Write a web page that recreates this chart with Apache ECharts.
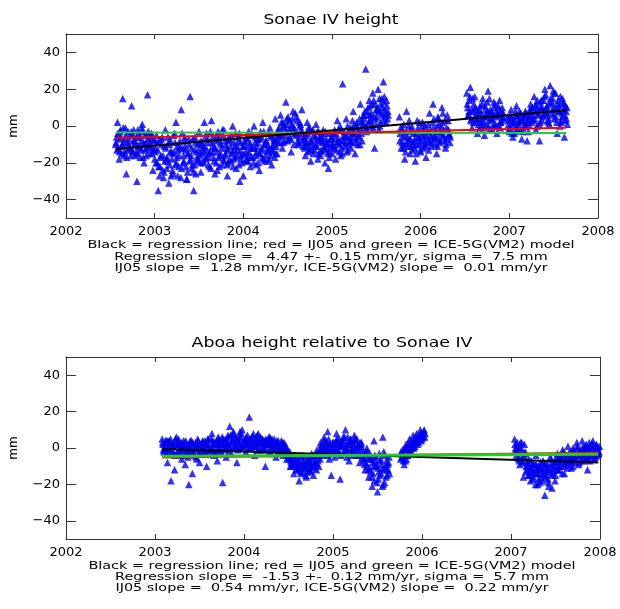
<!DOCTYPE html>
<html><head><meta charset="utf-8">
<script src="https://cdn.jsdelivr.net/npm/echarts@6/dist/echarts.min.js"></script>
<style>html,body{margin:0;padding:0;background:#fff}#c{width:620px;height:609px}</style>
</head><body><div id="c"></div>
<script>
// ---------- DATA ----------
const STEP = 0.02;                       // sampling step of each sample set (years)
const SET_OFFSETS = [0, 0.01, 0.005, 0.015]; // time offsets of the four sample sets
const xTicks = [2002, 2003, 2004, 2005, 2006, 2007, 2008];
const yTicks = [-40, -20, 0, 20, 40];

// ---- Sonae IV height (mm) ----
const sonaeStarts = [2002.56, 2003.00, 2004.00, 2005.00, 2005.76, 2006.52, 2006.98];
// set 1 (full spread incl. outliers)
const sonae2002 = [-10, 2, -18, -6, 15, -14, -26, -3, -12, 11, -8, -16, -30, -4, -13, 1, -20, -9, 17, -15, -5, -24];
const sonae2003 = [-18, -5, -35, -22, -10, -28, -2, -17, -31, -8, -24, -14, 2, -27, -11, 9, -20, -6, -29, -15, 16, -23, -35, -9, -19,
  -3, -25, -12, 2, -18, -7, -22, 3, -14, -26, -5, -17, -9, -21, -2, -15, -27, -8, -19, 0, -13, -23, -6, -30, -16];
const sonae2004 = [-27, -10, -18, -3, -22, -12, 0, -16, -7, -24, -13, 2, -19, -8, -14, -1, -21, -10, 4, -15, -5, 6, -12, 1, 13,
  -8, 3, -14, 8, -4, 5, -10, 0, 9, -6, -16, 2, -11, -19, -3, -13, 1, -18, -7, -14, -2, -20, -9, -23, -12];
const sonae2005a = [-15, -4, -18, 3, -10, -16, 23, -6, 4, -13, -1, -9, 8, -15, 2, -5, 12, -8, 6, 31, -2, 14, 3, 18, -12, 9, 20, 0, 15, 24, 5, 11];
const sonae2005b = [5, -12, -2, -18, 8, -8, -15, 0, -10, -19, 3, -6, -14, 2, -9, -17, -3, 7, -11, 12, -5, -15, 4, -8, 10, -2, -12, 6, -4];
const sonae2006 = [18, 6, 21, -1, 12, 2, -4, 9, 0, 15, -5, 5, 19, -2, 8, 1, 12, -4, 6, -1, 10];
const sonae2007 = [5, -3, 9, -6, 2, 11, -2, 6, -7, 3, 8, -8, 1, 12, 4, 16, -2, 9, -8, 14, 5, 20, 10, 2, 22, 13, 6, 18, -4, 11, 3, 15, -6, 8];
// set 2 (core band)
const sonae2002c = [-6, -12, -3, -15, -9, -1, -13, -7, -16, -4, -10, -14, -2, -11, -8, -17, -5, -12, -3, -9, -15, -7];
const sonae2003c = [-12, -20, -8, -16, -24, -11, -18, -6, -21, -14, -26, -9, -17, -22, -12, -4, -19, -13, -25, -10, -16, -7, -21, -14, -18,
  -9, -15, -20, -6, -13, -17, -3, -11, -19, -8, -14, -22, -10, -5, -16, -12, -20, -7, -14, -18, -4, -11, -21, -9, -15];
const sonae2004c = [-15, -6, -19, -11, -4, -17, -9, -14, -20, -7, -12, -3, -16, -10, -18, -5, -13, -8, -11, -2,
  -6, 2, -9, -1, 4, -7, -3, 1, -10, -4, 3, -6, -2, -8, -12, -5, -14, -1, -9, -15, -6, -11, -3, -16, -8, -4, -13, -10, -17, -6];
const sonae2005ac = [-10, -2, -13, -7, 0, -12, -5, -9, -14, -3, -8, 3, -6, -1, -10, 4, -4, 1, 8, -3, 6, 11, 0, 14, 4, 9, -2, 12, 6, 16, 2, 8];
const sonae2005bc = [-4, -9, 1, -14, -6, 3, -11, -3, -8, -15, -1, -10, -5, -12, 0, -7, -13, -2, -9, 4, -6, -11, 1, -4, 7, -8, -1, 3, -9];
const sonae2006c = [10, 14, 4, 8, 16, 6, 1, 11, 4, -1, 9, 13, 3, 7, -2, 10, 5, 0, 14, 3, 7];
const sonae2007c = [1, 6, -4, 4, 8, -1, 3, 7, -3, 5, 0, 4, 9, 2, 6, 11, 0, 7, 13, 3, 9, 17, 6, 1, 12, 15, 4, 9, 14, 0, 7, 12, 3, 10];
// set 3
const sonae2002d = [-9, -4, -14, -11, -1, -7, -17, -10, -5, -13, -2, -9, -15, -6, -12, -3, -10, -16, -7, -11, -4, -13];
const sonae2003d = [-14, -9, -22, -17, -6, -25, -12, -19, -10, -27, -15, -4, -20, -13, -8, -23, -16, -11, -29, -7, -18, -21, -13, -26, -10,
  -16, -8, -19, -11, -4, -21, -14, -9, -17, -12, -24, -7, -15, -2, -19, -10, -13, -18, -5, -22, -11, -16, -8, -14, -20];
const sonae2004d = [-11, -19, -7, -14, -17, -5, -12, -21, -9, -15, -6, -18, -10, -13, -4, -16, -11, -7, -15, -9,
  -1, -5, 2, -8, -3, 5, -6, 0, -2, 7, -4, -9, 1, -3, -7, -10, -4, -13, -8, -2, -11, -7, -15, -5, -9, -12, -3, -10, -14, -7];
const sonae2005ad = [-7, -12, -4, -9, -14, -2, -8, -11, -5, -10, -6, -1, -4, -9, 0, -6, -2, 2, 4, 0, 10, 3, 7, -1, 12, 5, 8, 2, 10, 13, 7, 4];
const sonae2005bd = [-8, -2, -12, -5, -9, 0, -7, -13, -4, -6, -10, 2, -8, -3, -11, -5, 1, -9, -6, -1, -10, 0, -7, -3, 2, -6, -10, -2, -5];
const sonae2006d = [12, 8, 3, 15, 5, 9, 4, -1, 7, 2, 11, 6, 0, 9, 4, 13, 1, 6, 9, 2, 5];
const sonae2007d = [3, -1, 5, 1, -3, 6, 2, -2, 4, 0, 7, 2, 5, 8, 10, 4, 12, 6, 2, 10, 14, 7, 11, 4, 15, 9, 18, 5, 12, 8, 2, 13, 6, 4];
// set 4
const sonae2002e = [-13, -7, -2, -10, -16, -5, -9, -12, -3, -14, -8, -6, -11, -17, -1, -9, -13, -4, -10, -6, -12, -8];
const sonae2003e = [-20, -13, -27, -7, -16, -19, -23, -9, -14, -18, -5, -21, -11, -16, -28, -12, -8, -22, -15, -19, -12, -25, -6, -17, -13,
  -20, -10, -14, -17, -9, -15, -23, -6, -12, -20, -3, -16, -12, -18, -8, -21, -6, -11, -15, -9, -17, -13, -4, -18, -11];
const sonae2004e = [-8, -14, -16, -9, -12, -20, -6, -11, -15, -3, -17, -10, -8, -19, -12, -6, -14, -17, -7, -4,
  -9, -3, 0, -5, 1, -2, -7, 4, -1, -5, -8, 2, -4, -11, -6, -9, -1, -8, -12, -5, -10, -3, -8, -13, -6, -11, -7, -15, -4, -9];
const sonae2005ae = [-11, -6, -9, -2, -8, -15, -3, -6, 0, -8, -12, -4, 1, -7, -3, -10, 3, 6, -1, 8, 2, 6, 12, 5, 1, 10, 15, 7, 3, 9, 14, 6];
const sonae2005be = [-1, -6, -10, -3, -11, -7, -2, -9, -12, -4, -7, -13, 0, -6, -10, -3, -8, -5, 2, -7, -3, 5, -9, -1, -5, 3, -7, -2, -6];
const sonae2006e = [6, 16, 9, 2, 10, 4, 7, 2, 12, 5, 1, 8, 15, 4, 6, 0, 8, 11, 2, 8, 4];
const sonae2007e = [-2, 4, 2, -4, 5, 1, 8, 3, -1, 6, 2, -3, 6, 10, 3, 8, 14, 1, 10, 6, 16, 8, 3, 13, 7, 19, 10, 2, 8, 16, 5, 9, 11, 1];
// Sonae IV lines: [year, mm] end points
const sonaeRegression = [[2002.56, -12.5], [2007.64, 8.5]];
const sonaeIJ05 = [[2002.56, -6.5], [2007.64, -1.0]];
const sonaeICE5G = [[2002.56, -3.6], [2007.64, -3.8]];

// ---- Aboa relative to Sonae IV (mm) ----
const aboaStarts = [2003.08, 2004.00, 2005.00, 2005.76, 2007.04];
const aboa2003 = [5, -2, 3, -8, 4, -18, 1, -12, 6, -3, 2, -6, 4, -9, -2, -20, 3, -14, 0, -5, 5, -8, 1, -3, 4, -10, 2, -1, 8, -4,
  3, -7, 5, -2, -19, 4, -5, 7, 12, -3, 9, 1, -8, 6, 0, 10];
const aboa2004 = [4, -2, 7, 17, 1, 6, -4, 3, 8, -1, 5, 0, -10, 4, 6, -3, 2, 5, -5, 3, -1, 4, -4, 1, -6,
  -2, -10, -4, -14, -7, -11, -18, -5, -13, -9, -16, -6, -12, -3, -15, -8, -1, -10, 3, -4, 6, -2, 9, -6, -15];
const aboa2005a = [2, -5, 8, -1, -17, 4, -3, 10, 0, -7, 5, -2, 7, -4, 1, -8, 3, -6, -12, 0, -16, -5, -21, 4, -10, -24, -3, -14, 6, -19, -7, -12];
const aboa2005b = [-6, -1, -9, 2, -4, 5, -2, 7, 1, 8, 3, 10, 5, 9];
const aboa2007 = [5, -4, 1, -9, 3, -16, -2, -12, -6, -18, -9, -14, -4, -20, -11, -16, -7, -26, -13, -19, -5, -22, -10, -15,
  -3, -12, -6, -1, -14, -8, 1, -5, -11, 0, -6, 3, -9, -2, 4, -7, 1, -12, 3, -4, 4, -6, 2, -3];
const aboa2003c = [2, -1, 4, 0, 3, -3, 1, 5, -2, 2, -4, 0, 3, -1, -5, 1, 4, -2, 0, -6, 2, -3, 3, 1, -1, 5, -2, 0, 4, -3,
  2, 6, -1, 3, 0, 5, 2, -2, 7, 4, 1, 6, -1, 3, 8, 2];
const aboa2004c = [2, 5, 3, 0, 6, 4, 1, 7, 3, 2, 5, -1, 4, 2, 6, 0, 3, 1, 4, -2, 2, 0, 3, -1, -3,
  -6, -8, -5, -10, -7, -12, -9, -4, -11, -8, -13, -6, -9, -5, -11, -3, -7, -1, 2, -3, 4, 0, 5, -1, 2];
const aboa2005ac = [0, 3, -2, 5, 1, -3, 6, 2, -1, 4, -4, 3, 0, 5, -2, 1, -5, -3, -8, -2, -11, -6, -14, -4, -9, -17, -7, -12, -2, -10, -15, -5];
const aboa2005bc = [-3, -7, 0, -4, 3, -1, 4, 0, 6, 2, 7, 4, 8, 6];
const aboa2007c = [0, 3, -5, -1, -7, 2, -10, -8, -13, -11, -16, -9, -12, -17, -8, -14, -10, -15, -9, -12, -6, -13, -8, -5,
  -10, -4, -7, -2, -9, -5, -3, -8, -1, -4, -6, 0, -3, -7, 1, -2, -5, 0, -4, 2, -1, -5, 0, -2];
const aboa2003d = [3, 0, -3, 4, 1, -1, 3, -4, 2, 5, 0, -2, 1, 4, -3, 2, -1, 3, -4, 1, 4, -2, 0, 3, -3, 2, 5, -1, 1, 3,
  -2, 4, 0, 2, 5, -1, 3, 6, 1, 4, 8, 2, 5, 0, 6, 3];
const aboa2004d = [1, 6, 3, 5, 0, 8, 2, 4, -1, 6, 3, 1, 5, 2, -2, 4, 1, 3, 0, 4, 1, -2, 2, 0, -3,
  -5, -7, -9, -4, -12, -6, -10, -14, -8, -5, -11, -9, -13, -7, -10, -4, -9, -3, 0, 1, -2, 3, -4, 2, -3];
const aboa2005ad = [3, -1, 5, 2, -4, 1, 4, -2, 6, 3, -1, 2, 5, -3, 0, 3, -4, -7, -2, -10, -6, -13, -8, -18, -5, -11, -15, -9, -20, -4, -12, -8];
const aboa2005bd = [-2, -5, -1, -6, 1, -2, 3, 2, 5, 4, 6, 8, 7, 10];
const aboa2007d = [2, -2, -6, 3, -8, -4, -13, -10, -15, -7, -17, -12, -9, -14, -19, -11, -8, -16, -12, -21, -9, -15, -11, -7,
  -12, -8, -4, -10, -3, -6, -9, -2, -7, -3, -5, 1, -8, -4, -1, -5, 2, -3, -7, -1, 2, -4, 1, -3];
const aboa2003e = [-1, 4, 2, -2, 5, 1, -3, 2, 4, -1, 3, 1, -4, 2, 0, 4, -2, 1, 3, -1, -3, 2, 4, -2, 3, 0, -1, 5, 2, -2,
  4, 1, -1, 6, 2, 0, 4, 1, 3, 7, 0, 5, 3, 9, 1, 4];
const aboa2004e = [5, 2, 0, 4, 3, 1, 6, -1, 5, 3, 0, 4, 2, -1, 3, 5, -1, 2, 3, 1, -2, 3, -1, 1, -4,
  -2, -10, -6, -9, -11, -8, -13, -7, -10, -15, -7, -12, -10, -4, -8, -12, -5, -6, -2, 4, 1, -1, 2, 0, 3];
const aboa2005ae = [-2, 4, 1, -3, 3, 6, 0, -5, 2, 5, 0, -2, 4, 1, -4, 2, -1, -9, -5, -12, -3, -16, -10, -7, -19, -13, -6, -21, -11, -16, -9, -14];
const aboa2005be = [-5, -3, -7, 0, -2, 2, 0, 4, 3, 6, 5, 8, 6, 8];
const aboa2007e = [-1, 1, -7, 0, -5, -3, -8, -15, -11, -13, -9, -20, -14, -10, -12, -18, -13, -9, -17, -11, -14, -8, -18, -12,
  -6, -10, -14, -5, -8, -11, -4, -7, -10, -2, -8, -4, -1, -6, -3, 0, -6, -2, 1, -5, -2, 0, -4, 1];
const aboaRegression = [[2003.08, -0.5], [2007.98, -8.0]];
const aboaIJ05 = [[2003.08, -5.2], [2007.98, -2.55]];
const aboaICE5G = [[2003.08, -4.5], [2007.98, -3.4]];

const titles = ['Sonae IV height', 'Aboa height relative to Sonae IV'];
const captionTop = [
  'Black = regression line; red = IJ05 and green = ICE-5G(VM2) model',
  'Regression slope =   4.47 +-  0.15 mm/yr, sigma =  7.5 mm',
  'IJ05 slope =  1.28 mm/yr, ICE-5G(VM2) slope =  0.01 mm/yr'];
const captionBottom = [
  'Black = regression line; red = IJ05 and green = ICE-5G(VM2) model',
  'Regression slope =  -1.53 +-  0.12 mm/yr, sigma =  5.7 mm',
  'IJ05 slope =  0.54 mm/yr, ICE-5G(VM2) slope =  0.22 mm/yr'];
const yName = 'mm';

// ---------- BUILD ----------
function expand(starts, sets) {
  const out = [];
  sets.forEach((segs, s) => segs.forEach((vals, k) => vals.forEach((v, i) =>
    out.push([+(starts[k] + SET_OFFSETS[s] + i * STEP).toFixed(4), v]))));
  return out;
}
const sonaePts = expand(sonaeStarts, [
  [sonae2002, sonae2003, sonae2004, sonae2005a, sonae2005b, sonae2006, sonae2007],
  [sonae2002c, sonae2003c, sonae2004c, sonae2005ac, sonae2005bc, sonae2006c, sonae2007c],
  [sonae2002d, sonae2003d, sonae2004d, sonae2005ad, sonae2005bd, sonae2006d, sonae2007d],
  [sonae2002e, sonae2003e, sonae2004e, sonae2005ae, sonae2005be, sonae2006e, sonae2007e]]);
const aboaPts = expand(aboaStarts, [
  [aboa2003, aboa2004, aboa2005a, aboa2005b, aboa2007],
  [aboa2003c, aboa2004c, aboa2005ac, aboa2005bc, aboa2007c],
  [aboa2003d, aboa2004d, aboa2005ad, aboa2005bd, aboa2007d],
  [aboa2003e, aboa2004e, aboa2005ae, aboa2005be, aboa2007e]]);

const FONT = '"DejaVu Sans", sans-serif';
const AX = '#333';
const fmtY = v => v < 0 ? '\u2212' + (-v) : String(v);

function xAxes(g) {
  return [
    {type: 'value', gridIndex: g, position: 'bottom', min: xTicks[0], max: xTicks[xTicks.length - 1], interval: 1,
      axisLine: {show: true, onZero: false, lineStyle: {color: AX, width: 1}},
      axisTick: {show: true, inside: true, length: 5, lineStyle: {color: AX}},
      axisLabel: {show: true, margin: 7, color: '#000', fontSize: 13, fontFamily: FONT, formatter: v => String(v)},
      splitLine: {show: false}},
    {type: 'value', gridIndex: g, position: 'top', min: xTicks[0], max: xTicks[xTicks.length - 1], interval: 1,
      axisLine: {show: true, onZero: false, lineStyle: {color: AX, width: 1}},
      axisTick: {show: true, inside: true, length: 5, lineStyle: {color: AX}},
      axisLabel: {show: false}, splitLine: {show: false}}
  ];
}
function yAxes(g) {
  return [
    {type: 'value', gridIndex: g, position: 'left', min: -50, max: 50,
      name: yName, nameLocation: 'middle', nameGap: 46, nameRotate: 90,
      nameTextStyle: {color: '#000', fontSize: 12, fontFamily: FONT},
      axisLine: {show: true, onZero: false, lineStyle: {color: AX, width: 1}},
      axisTick: {show: true, inside: true, length: 10, customValues: yTicks, lineStyle: {color: AX}},
      axisLabel: {show: true, margin: 6, color: '#000', fontSize: 13, fontFamily: FONT, customValues: yTicks, formatter: fmtY},
      splitLine: {show: false}},
    {type: 'value', gridIndex: g, position: 'right', min: -50, max: 50,
      axisLine: {show: true, onZero: false, lineStyle: {color: AX, width: 1}},
      axisTick: {show: true, inside: true, length: 10, customValues: yTicks, lineStyle: {color: AX}},
      axisLabel: {show: false}, splitLine: {show: false}}
  ];
}
function scatter(data, xi, yi) {
  return {type: 'scatter', xAxisIndex: xi, yAxisIndex: yi, data, symbol: 'triangle', symbolSize: 7.5,
    itemStyle: {color: '#0000ee'}, z: 2, silent: true};
}
function line(data, xi, yi, color, width) {
  return {type: 'line', xAxisIndex: xi, yAxisIndex: yi, data, showSymbol: false, symbol: 'none',
    lineStyle: {color, width}, z: 3, silent: true};
}
function textEl(text, x, y, size, sx) {
  return {type: 'text', x, y, scaleX: sx, style: {text, font: size + 'px ' + FONT, fill: '#000', textAlign: 'center', textVerticalAlign: 'middle'}};
}

const chart = echarts.init(document.getElementById('c'), null, {renderer: 'canvas'});
chart.setOption({
  animation: false,
  backgroundColor: '#fff',
  grid: [
    {left: 63, right: 22, top: 34, height: 184},
    {left: 64, right: 20, top: 357, height: 182}
  ],
  xAxis: xAxes(0).concat(xAxes(1)),
  yAxis: yAxes(0).concat(yAxes(1)),
  series: [
    scatter(sonaePts, 0, 0),
    line(sonaeICE5G, 0, 0, '#22cc44', 2),
    line(sonaeIJ05, 0, 0, '#ff0000', 2),
    line(sonaeRegression, 0, 0, '#000000', 2),
    scatter(aboaPts, 2, 2),
    line(aboaRegression, 2, 2, '#000000', 2),
    line(aboaIJ05, 2, 2, '#ff0000', 2),
    line(aboaICE5G, 2, 2, '#22cc22', 3)
  ],
  graphic: [
    textEl(titles[0], 331, 20, 14, 1.22),
    textEl(captionTop[0], 331, 245, 11, 1.31),
    textEl(captionTop[1], 331, 257, 11, 1.31),
    textEl(captionTop[2], 331, 268, 11, 1.31),
    textEl(titles[1], 332, 343, 14, 1.24),
    textEl(captionBottom[0], 332, 566, 11, 1.31),
    textEl(captionBottom[1], 332, 577, 11, 1.31),
    textEl(captionBottom[2], 332, 588, 11, 1.31)
  ]
});
</script>
</body></html>
